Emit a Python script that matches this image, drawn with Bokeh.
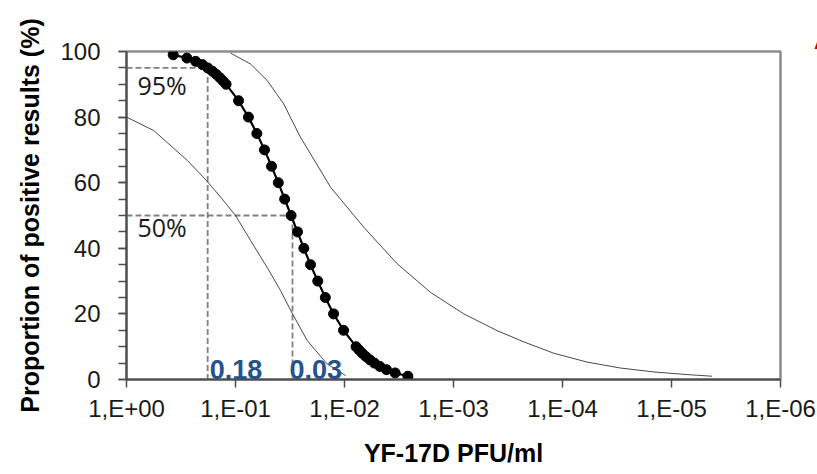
from bokeh.plotting import figure
from bokeh.models import (Range1d, FixedTicker, SingleIntervalTicker,
                          CustomJSTickFormatter, Label, Title, ColumnDataSource)
from bokeh.embed import file_html
from bokeh.resources import INLINE

# ---- data ----
# probit fit points: concentration (PFU/ml) and proportion positive (%)
fit_conc = [0.00262, 0.00343, 0.00412, 0.00474, 0.00531, 0.00585, 0.00637, 0.00687,
            0.00735, 0.00783, 0.0102, 0.0126, 0.0150, 0.0176, 0.0205, 0.0236, 0.0270,
            0.0309, 0.0354, 0.0405, 0.0467, 0.0542, 0.0637, 0.0761, 0.0937, 0.122,
            0.130, 0.139, 0.150, 0.163, 0.180, 0.201, 0.232, 0.279, 0.373]
fit_pct = [1, 2, 3, 4, 5, 6, 7, 8, 9, 10, 15, 20, 25, 30, 35, 40, 45, 50, 55, 60,
           65, 70, 75, 80, 85, 90, 91, 92, 93, 94, 95, 96, 97, 98, 99]

# 95% confidence limits (thin curves)
lo_conc = [1.0, 0.562, 0.277, 0.185, 0.137, 0.100, 0.0728, 0.0513, 0.0386,
           0.0302, 0.0220, 0.0145, 0.00977]
lo_pct = [80.0, 75.9, 66.8, 60.7, 55.6, 50.0, 42.4, 34.2, 27.1, 20.2, 11.9, 4.8, 1.2]

hi_conc = [0.111, 0.0728, 0.0513, 0.0361, 0.0254, 0.0134, 0.00665, 0.00329, 0.00163,
           0.000804, 0.000398, 0.000224, 0.000120, 5.93e-5, 2.94e-5, 1.45e-5,
           7.18e-6, 4.24e-6]
hi_pct = [99.5, 96.2, 91.2, 84.0, 73.9, 58.6, 46.4, 35.3, 26.6, 20.0, 14.9, 11.4,
          8.0, 5.3, 3.5, 2.3, 1.5, 1.0]

# reference levels
level_pct = [95, 50]
level_conc = [0.18, 0.03]
level_pct_labels = ["95%", "50%"]
level_conc_labels = ["0.18", "0.03"]

x_ticks = [1, 1e-1, 1e-2, 1e-3, 1e-4, 1e-5, 1e-6]
x_tick_labels = ["1,E+00", "1,E-01", "1,E-02", "1,E-03", "1,E-04", "1,E-05", "1,E-06"]

# ---- figure ----
p = figure(width=817, height=474, x_axis_type="log",
           x_range=Range1d(1, 1e-6), y_range=Range1d(0, 100),
           output_backend="svg", toolbar_location=None,
           min_border_left=126, min_border_right=37,
           min_border_top=51, min_border_bottom=95)
p.background_fill_color = "white"
p.border_fill_color = "white"
p.xgrid.visible = False
p.ygrid.visible = False
p.outline_line_color = "#8c8c8c"
p.outline_line_width = 2.5

FONT = "Liberation Sans"

xa = p.xaxis[0]
xa.ticker = FixedTicker(ticks=x_ticks, minor_ticks=[])
xa.formatter = CustomJSTickFormatter(args=dict(tvals=x_ticks, tlabels=x_tick_labels), code="""
let best = 0, bd = Infinity;
for (let i = 0; i < tvals.length; i++) {
  const d = Math.abs(Math.log10(tvals[i]) - Math.log10(tick));
  if (d < bd) { bd = d; best = i; }
}
return tlabels[best];
""")
xa.axis_label = "YF-17D PFU/ml"

ya = p.yaxis[0]
ya.ticker = SingleIntervalTicker(interval=20, num_minor_ticks=4)
ya.axis_label = "Proportion of positive results (%)"

for ax in (xa, ya):
    ax.axis_line_color = "#4d4d4d"
    ax.axis_line_width = 2
    ax.major_tick_line_color = "#4d4d4d"
    ax.minor_tick_line_color = "#4d4d4d"
    ax.major_tick_line_width = 1.5
    ax.minor_tick_line_width = 1.5
    ax.major_tick_in = 0
    ax.major_tick_out = 8
    ax.minor_tick_in = 0
    ax.minor_tick_out = 8
    ax.major_label_text_font = FONT
    ax.major_label_text_font_size = "24px"
    ax.major_label_text_color = "#1a1a1a"
    ax.axis_label_text_font = FONT
    ax.axis_label_text_font_style = "bold"
    ax.axis_label_text_font_size = "25px"
    ax.axis_label_text_color = "#000000"

xa.major_label_standoff = 7
xa.axis_label_standoff = 14
ya.major_label_standoff = 18
ya.axis_label_standoff = 13

# dashed reference lines
dash_color = "#808080"
for pct, conc in zip(level_pct, level_conc):
    p.line([1, conc], [pct, pct], line_color=dash_color, line_width=1.8, line_dash="6 3")
    p.line([conc, conc], [pct, 0], line_color=dash_color, line_width=1.8, line_dash="6 3")

# confidence curves
p.line(lo_conc, lo_pct, line_color="#1a1a1a", line_width=0.8)
p.line(hi_conc, hi_pct, line_color="#1a1a1a", line_width=0.8)

# probit fit
src = ColumnDataSource(dict(x=fit_conc, y=fit_pct))
p.line("x", "y", source=src, line_color="black", line_width=2.2)
p.scatter("x", "y", source=src, size=10, fill_color="black", line_color="black")

# level labels (vertical centres, in data units)
pct_label_mid = [89.9, 46.6]
for txt, ym in zip(level_pct_labels, pct_label_mid):
    p.add_layout(Label(x=1, y=ym, x_offset=11, text=txt, text_font="Open Sans",
                       text_font_size="25px", text_color="#1a1a1a",
                       text_baseline="middle", text_align="left"))

conc_offsets = [2, -3]
for txt, conc, off in zip(level_conc_labels, level_conc, conc_offsets):
    p.add_layout(Label(x=conc, y=2.9, x_offset=off, text=txt,
                       text_font=FONT, text_font_style="bold", text_font_size="27px",
                       text_color="#24528c", text_baseline="middle",
                       text_align="left"))

# panel letter, mostly outside the window as in the reference
p.add_layout(Title(text="A", align="right", offset=-55, text_font=FONT,
                   text_font_style="bold", text_font_size="30px",
                   text_color="#c00000", standoff=-6), "above")

open("out.html", "w").write(file_html(p, INLINE))
